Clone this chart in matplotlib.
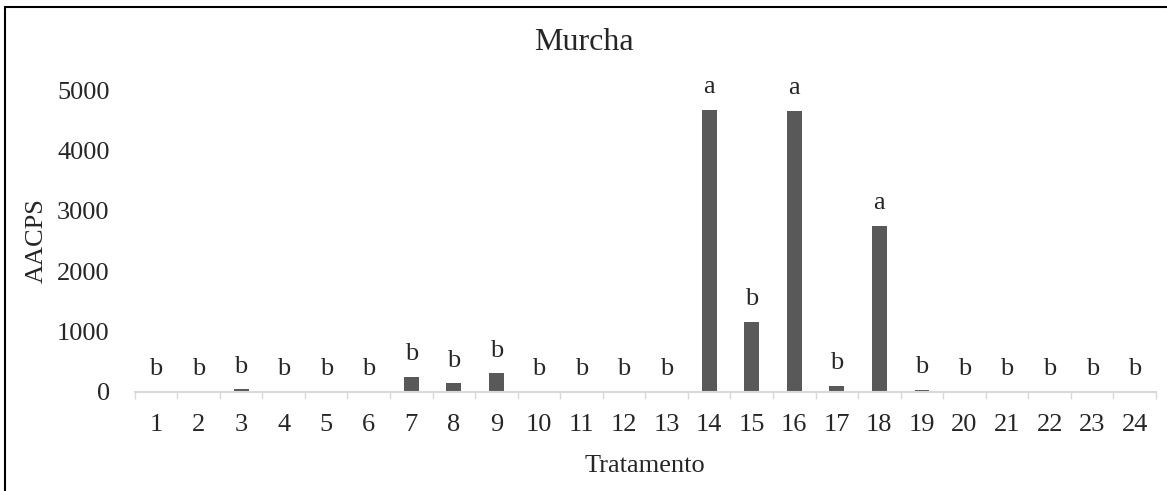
import matplotlib
matplotlib.use("Agg")
import matplotlib.pyplot as plt
from matplotlib.patches import Rectangle

plt.rcParams['font.family'] = ['Liberation Serif', 'DejaVu Serif']

# AACPS por tratamento (murcha)
tratamentos = list(range(1, 25))
aacps = [0, 0, 35, 0, 0, 0, 245, 135, 300, 0, 0, 0, 0,
         4680, 1160, 4665, 90, 2750, 30, 0, 0, 0, 0, 0]
letras = ['b', 'b', 'b', 'b', 'b', 'b', 'b', 'b', 'b', 'b', 'b', 'b', 'b',
          'a', 'b', 'a', 'b', 'a', 'b', 'b', 'b', 'b', 'b', 'b']

fig = plt.figure(figsize=(11.67, 4.91), dpi=100)
ax = fig.add_axes([0.1154, 0.2026, 0.8752, 0.613])

ax.bar(tratamentos, aacps, width=0.35, color='#595959')

# letras de significancia acima das barras
for t, v, l in zip(tratamentos, aacps, letras):
    ax.annotate(l, (t, v), xytext=(0, 12), textcoords='offset points',
                ha='center', va='baseline', fontsize=19, color='#262626',
                annotation_clip=False)

ax.set_xlim(0.5, 24.5)
ax.set_ylim(0, 5000)
ax.set_yticks([0, 1000, 2000, 3000, 4000, 5000])
ax.set_xticks(tratamentos)
ax.set_xticks([i + 0.5 for i in range(0, 25)], minor=True)

for s in ['top', 'right', 'left']:
    ax.spines[s].set_visible(False)
ax.spines['bottom'].set_color('#d9d9d9')
ax.spines['bottom'].set_linewidth(1.5)

ax.tick_params(axis='y', length=0, pad=18, labelsize=19, labelcolor='#262626')
ax.tick_params(axis='x', which='major', length=0, pad=16, labelsize=19,
               labelcolor='#262626')
ax.tick_params(axis='x', which='minor', length=5, width=1, color='#d9d9d9')

# titulo centrado na figura
fig.text(0.5, 1 - 42 / 491, 'Murcha', fontsize=23, color='#262626',
         ha='center', va='center')
ax.set_xlabel('Tratamento', fontsize=19, color='#262626', labelpad=14)
ax.set_ylabel('AACPS', fontsize=19, color='#262626', labelpad=7)

# moldura
fig.patches.append(Rectangle((5 / 1167, -0.1), 1.2, 1.1 - 7 / 491,
                             transform=fig.transFigure, fill=False,
                             edgecolor='black', linewidth=1.5))

fig.savefig('out.png', dpi=100)
